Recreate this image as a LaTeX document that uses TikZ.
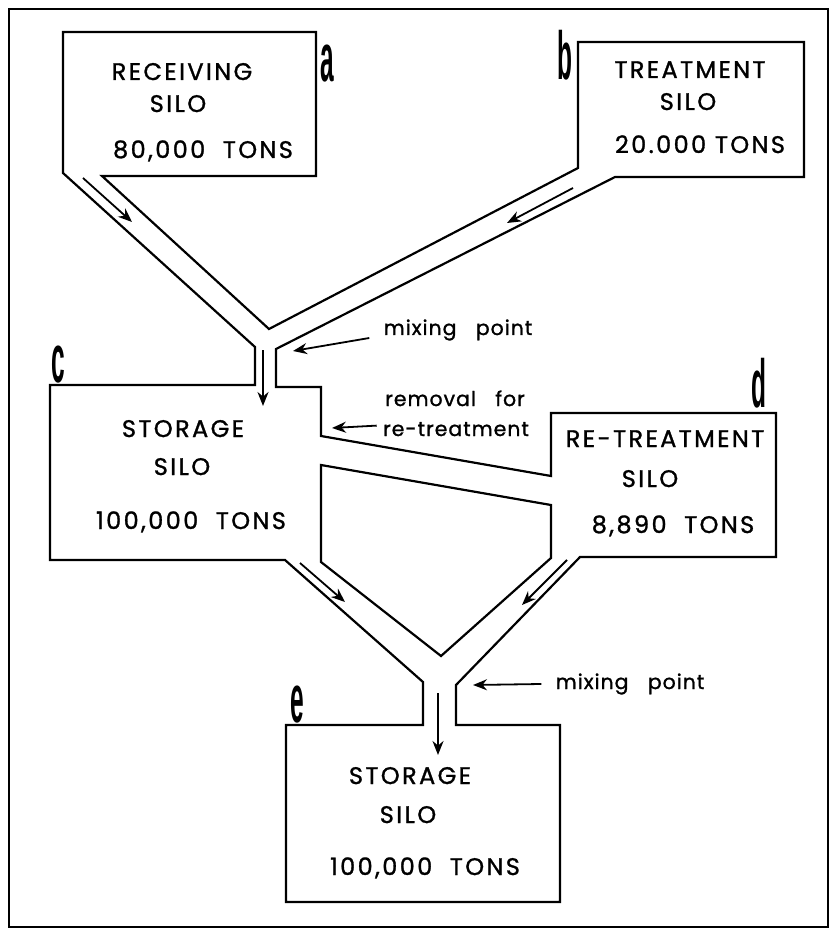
\documentclass[tikz,border=0pt]{standalone}
\usepackage{fontspec}
\setmainfont{Poppins}[LetterSpace=10, FakeBold=1.2]
\newfontfamily\notefont{Poppins}[LetterSpace=5, FakeBold=1.2]
\newfontfamily\tagfont{Liberation Sans}
\usepackage{graphicx}
\usetikzlibrary{arrows.meta}
\newcommand{\silotag}[1]{\scalebox{0.36}[1]{\tagfont\bfseries\fontsize{34}{34}\selectfont #1}}

\begin{document}
\begin{tikzpicture}[x=0.5pt, y=-0.5pt, >={Stealth[length=7pt,width=5.5pt]},
  wall/.style={line width=1.1pt, line join=miter},
  flow/.style={->, line width=0.9pt},
  silo/.style={font=\fontsize{12}{14}\selectfont, anchor=base, inner sep=0pt},
  note/.style={font=\notefont\fontsize{10.2}{12}\selectfont, anchor=base, inner sep=0pt},
  tag/.style={anchor=base, inner sep=0pt}]
\useasboundingbox (0,0) rectangle (831,930);
\draw[line width=0.8pt] (9,9) rectangle (828,927);
% outline of silos and pipes
\draw[wall] (102,176) -- (316,176) -- (316,32) -- (63,32) -- (63,173) -- (255,347) -- (255,385)
  -- (50,385) -- (50,560) -- (285,560) -- (423,682) -- (423,725) -- (286,725) -- (286,902)
  -- (560,902) -- (560,725) -- (456,725) -- (456,685) -- (580,557) -- (776,557) -- (776,413)
  -- (551,413) -- (551,476) -- (321,436) -- (321,387) -- (276,387) -- (276,349) -- (615,177)
  -- (804,177) -- (804,42) -- (578,42) -- (578,168) -- (269,329) -- cycle;
\draw[wall] (321,465) -- (551,505) -- (551,558) -- (441,656) -- (321,562) -- cycle;
% silo texts
\node[silo] (recv) at (182,80) {RECEIVING};
\node[silo] (recvsilo) at (178,112) {SILO};
\node[silo] (recvtons) at (203,158) {80,000\ \ TONS};
\node[silo] (treat) at (690,78) {TREATMENT};
\node[silo] (treatsilo) at (688,110) {SILO};
\node[silo] (treattons) at (700,153) {20.000 TONS};
\node[silo] (store) at (183,437) {STORAGE};
\node[silo] (storesilo) at (182,475) {SILO};
\node[silo] (storetons) at (191,529) {100,000\ \ TONS};
\node[silo] (retreat) at (665,447) {RE-TREATMENT};
\node[silo] (retreatsilo) at (650,487) {SILO};
\node[silo] (retreattons) at (673,533) {8,890\ \ TONS};
\node[silo] (final) at (410,784) {STORAGE};
\node[silo] (finalsilo) at (408,823) {SILO};
\node[silo] (finaltons) at (425,875) {100,000\ \ TONS};
% letters
\node[tag] (taga) at (327,82) {\silotag{a}};
\node[tag] (tagb) at (565,80) {\silotag{b}};
\node[tag] (tagc) at (58,382) {\silotag{c}};
\node[tag] (tagd) at (759,407) {\silotag{d}};
\node[tag] (tage) at (297,722) {\silotag{e}};
% flow in the pipes
\draw[flow] (83,178) -- (132,222);
\draw[flow] (573,188) -- (507,223);
\draw[flow] (263,350) -- (263,406);
\draw[flow] (300,563) -- (345,602);
\draw[flow] (567,560) -- (522,605);
\draw[flow] (438,693) -- (438,755);
% notes
\node[note] (mixtop) at (458,335) {mixing\ \ \ point};
\node[note] (removal) at (455,406) {removal\ \ \ for};
\node[note] (retr) at (456,436) {re-treatment};
\node[note] (mixbot) at (630,689) {mixing\ \ \ point};
\coordinate (mixtoptip) at (293,351);
\coordinate (removaltip) at (332,428);
\coordinate (mixbottip) at (473,685);
\draw[flow] ([xshift=-7pt,yshift=-4pt]mixtop.west) -- (mixtoptip);
\draw[flow] ([xshift=-3pt,yshift=-2pt]retr.north west) -- (removaltip);
\draw[flow] ([xshift=-7pt]mixbot.west) -- (mixbottip);
\end{tikzpicture}
\end{document}
